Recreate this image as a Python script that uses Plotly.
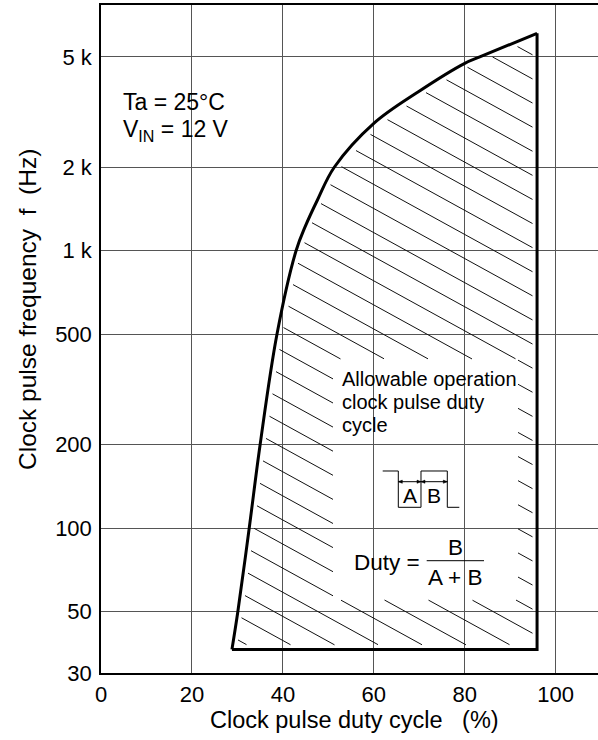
import numpy as np
import plotly.graph_objects as go

# ---------------- data ----------------
duty_pct = [28.8, 30.1, 32.6, 35.0, 38.7, 42.9, 44.9, 47.6, 51.3, 60.0, 69.8, 80.0, 83.3, 95.9]
freq_hz = [36.5, 50, 100, 200, 500, 1000, 1221, 1524, 2000, 2881, 3746, 4742, 5000, 6085]
duty_max = 95.9
freq_min = 36.5

x_ticks = [0, 20, 40, 60, 80, 100]
y_ticks = [30, 50, 100, 200, 500, 1000, 2000, 5000]
y_ticktext = ["30", "50", "100", "200", "500", "1 k", "2 k", "5 k"]

# ---------------- layout geometry ----------------
W, H = 598, 740
L, R, T, B = 101, 598, 5, 673
X_RANGE = [0, (R - L) / 4.547]
Y_RANGE = [np.log10(30), np.log10(7695)]
FONT = "Liberation Sans, Arial, Helvetica, sans-serif"


def xpx(x):
    return L + (np.asarray(x, float) - X_RANGE[0]) / (X_RANGE[1] - X_RANGE[0]) * (R - L)


def ypx(f):
    return B - (np.log10(np.asarray(f, float)) - Y_RANGE[0]) / (Y_RANGE[1] - Y_RANGE[0]) * (B - T)


def xdat(px):
    return X_RANGE[0] + (px - L) / (R - L) * (X_RANGE[1] - X_RANGE[0])


def ydat(py):
    return 10 ** (Y_RANGE[0] + (B - py) / (B - T) * (Y_RANGE[1] - Y_RANGE[0]))


def PX(px):
    return (px - L) / (R - L)


def PY(py):
    return (B - py) / (B - T)


# ---------------- hatching of the allowed region ----------------
SLOPE = 0.55
GAP = 24.1
PHASE_X, PHASE_Y = 531.0, 54.0
MARGIN = 4.5
CLEAR_BOX = (333, 518, 359, 600)  # px area kept free for the text block

logf_d = np.linspace(np.log10(freq_min), np.log10(freq_hz[-1]), 1500)
duty_d = np.interp(logf_d, np.log10(freq_hz), duty_pct)
bxc, byc = xpx(duty_d), ypx(10 ** logf_d)
y_top, y_bot = float(ypx(freq_hz[-1])), float(ypx(freq_min))
x_right = float(xpx(duty_max))
x_left_bot = float(xpx(duty_pct[0]))
bre_y = np.linspace(y_top, y_bot, 800)
bbo_x = np.linspace(x_right, x_left_bot, 500)
bnd_x = np.concatenate([bxc, np.full_like(bre_y, x_right), bbo_x])
bnd_y = np.concatenate([byc, bre_y, np.full_like(bbo_x, y_bot)])

hx, hy = [], []
xs = np.arange(L, R, 0.5)
for k in range(-40, 60):
    c = PHASE_Y + k * GAP
    ys = c + SLOPE * (xs - PHASE_X)
    xcur = np.interp(ys, byc[::-1], bxc[::-1])
    m = (ys >= y_top) & (ys <= y_bot) & (xs > xcur) & (xs < x_right)
    if not m.any():
        continue
    idx = np.where(m)[0]
    d = np.min(np.hypot(xs[idx][:, None] - bnd_x[None, :], ys[idx][:, None] - bnd_y[None, :]), axis=1)
    ok = d >= MARGIN
    inbox = (xs[idx] > CLEAR_BOX[0]) & (xs[idx] < CLEAR_BOX[1]) & (ys[idx] > CLEAR_BOX[2]) & (ys[idx] < CLEAR_BOX[3])
    ok &= ~inbox
    m2 = np.zeros_like(m)
    m2[idx[ok]] = True
    dm = np.diff(np.concatenate([[0], m2.astype(int), [0]]))
    starts = np.where(dm == 1)[0]
    ends = np.where(dm == -1)[0] - 1
    for s, e in zip(starts, ends):
        if xs[e] - xs[s] < 2:
            continue
        hx += [xdat(xs[s]), xdat(xs[e]), None]
        hy += [ydat(ys[s]), ydat(ys[e]), None]

fig = go.Figure()
fig.add_trace(go.Scatter(x=hx, y=hy, mode="lines", line=dict(color="#111", width=1),
                         hoverinfo="skip", showlegend=False))
fig.add_trace(go.Scatter(x=duty_pct, y=freq_hz, mode="lines",
                         line=dict(color="black", width=3, shape="spline", smoothing=1.0),
                         hoverinfo="skip", showlegend=False))
fig.add_trace(go.Scatter(x=[duty_pct[-1], duty_max, duty_pct[0]],
                         y=[freq_hz[-1], freq_min, freq_min], mode="lines",
                         line=dict(color="black", width=3), hoverinfo="skip", showlegend=False))

# ---------------- white boxes behind text (hide grid) ----------------
shapes = []
for (x0, x1, y0, y1) in [(117, 236, 87, 144), (333, 518, 363, 440), (333, 518, 533, 592)]:
    shapes.append(dict(type="rect", xref="paper", yref="paper", x0=PX(x0), x1=PX(x1),
                       y0=PY(y1), y1=PY(y0), fillcolor="white", line=dict(width=0), layer="between"))

# pulse waveform sketch
wave = [(382.7, 471), (398.3, 471), (398.3, 507.3), (421, 507.3), (421, 471),
        (447.3, 471), (447.3, 507.3), (459.3, 507.3)]
path = "M " + " L ".join(f"{PX(a):.5f},{PY(b):.5f}" for a, b in wave)
shapes.append(dict(type="path", xref="paper", yref="paper", path=path,
                   line=dict(color="black", width=1), layer="above"))
ya = 481.7
shapes.append(dict(type="line", xref="paper", yref="paper", x0=PX(398.3), x1=PX(447.3),
                   y0=PY(ya), y1=PY(ya), line=dict(color="black", width=1), layer="above"))
for tip, direc in [(398.3, 1), (421, -1), (421, 1), (447.3, -1)]:
    p = (f"M {PX(tip):.5f},{PY(ya):.5f} L {PX(tip + 4 * direc):.5f},{PY(ya - 1.6):.5f} "
         f"L {PX(tip + 4 * direc):.5f},{PY(ya + 1.6):.5f} Z")
    shapes.append(dict(type="path", xref="paper", yref="paper", path=p, fillcolor="black",
                       line=dict(color="black", width=0.5), layer="above"))
# fraction bar
shapes.append(dict(type="line", xref="paper", yref="paper", x0=PX(426.7), x1=PX(484),
                   y0=PY(560.7), y1=PY(560.7), line=dict(color="black", width=1), layer="above"))

# ---------------- annotations ----------------
ann = []


def text(t, x, y, xa="left", ya_="middle", size=21, angle=0):
    ann.append(dict(text=t, x=PX(x), y=PY(y), xref="paper", yref="paper", xanchor=xa,
                    yanchor=ya_, showarrow=False, textangle=angle,
                    font=dict(family=FONT, size=size, color="black")))


text("Ta = 25°C", 121, 102, size=23)
text("V<sub>IN</sub> = 12 V", 121, 130, size=23)
text("Allowable operation", 340, 379, size=20)
text("clock pulse duty", 340, 402, size=20)
text("cycle", 340, 425, size=20)
text("A", 409.6, 496, xa="center", size=21)
text("B", 434, 496, xa="center", size=21)
text("Duty =", 352, 562, size=22.5)
text("B", 455, 547, xa="center", size=22.5)
text("A + B", 455, 577, xa="center", size=22.5)
text("Clock pulse duty cycle   (%)", 354, 720, xa="center", size=23.5)
text("Clock pulse frequency  f  (Hz)", 27, 310, xa="center", size=24.5, angle=-90)

fig.update_layout(
    width=W, height=H,
    margin=dict(l=L, r=W - R, t=T, b=H - B),
    paper_bgcolor="white", plot_bgcolor="white",
    font=dict(family=FONT, size=22, color="black"),
    shapes=shapes, annotations=ann, showlegend=False,
    xaxis=dict(range=X_RANGE, tickvals=x_ticks, showgrid=True, gridcolor="#555", gridwidth=1,
               showline=True, linecolor="black", linewidth=1.5, mirror=True, zeroline=False,
               ticks="outside", ticklen=1, tickcolor="rgba(0,0,0,0)",
               tickfont=dict(family=FONT, size=22, color="black")),
    yaxis=dict(type="log", range=Y_RANGE, tickvals=y_ticks, ticktext=y_ticktext,
               showgrid=True, gridcolor="#555", gridwidth=1, showline=True, linecolor="black",
               linewidth=1.5, mirror=False, zeroline=False, ticks="outside", ticklen=3,
               tickcolor="rgba(0,0,0,0)", tickfont=dict(family=FONT, size=22, color="black")),
)

fig.write_html("out.html", config={"displayModeBar": False},
               post_script="document.body.style.margin='0';")
